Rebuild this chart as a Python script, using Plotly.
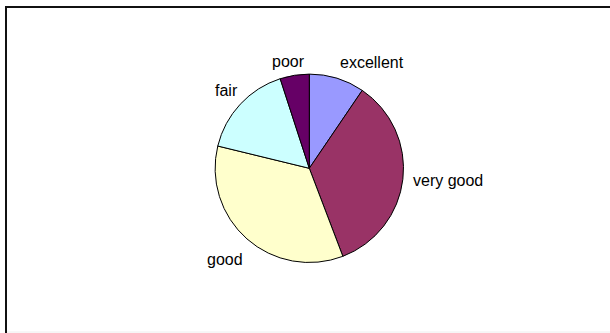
import plotly.graph_objects as go

# Data
categories = ["excellent", "very good", "good", "fair", "poor"]
values = [9.5, 34.7, 34.6, 16.2, 5.0]

# Styles
colors = ["#9999FF", "#993366", "#FFFFCC", "#CCFFFF", "#660066"]
W, H = 610, 333
# label anchor positions in pixels (x, y from top)
label_pos = [(371.7, 62.5), (447.7, 180.7), (225.0, 259.3), (226.7, 90.7), (288.0, 61.5)]

cx, cy, r = 309.3, 168.3, 94.2

fig = go.Figure(go.Pie(
    labels=categories, values=values, sort=False, direction="clockwise", rotation=0,
    marker=dict(colors=colors, line=dict(color="#000000", width=1)),
    textinfo="none", hoverinfo="label+percent", showlegend=False,
    domain=dict(x=[(cx - r) / W, (cx + r) / W], y=[1 - (cy + r) / H, 1 - (cy - r) / H]),
))

annotations = []
for name, (px, py) in zip(categories, label_pos):
    annotations.append(dict(
        x=px / W, y=1 - py / H, xref="paper", yref="paper", text=name, showarrow=False,
        xanchor="center", yanchor="middle",
        font=dict(family="Liberation Sans, Arial", size=16, color="#000000"),
    ))

fig.update_layout(
    width=W, height=H, margin=dict(l=0, r=0, t=0, b=0),
    paper_bgcolor="#FFFFFF", plot_bgcolor="#FFFFFF",
    annotations=annotations,
    shapes=[
        dict(type="rect", xref="paper", yref="paper", x0=6 / W, x1=1.05, y0=-0.05, y1=1 - 7 / H,
             line=dict(color="#111111", width=2), fillcolor="rgba(0,0,0,0)", layer="below"),
        dict(type="line", xref="paper", yref="paper", x0=7 / W, x1=1.0, y0=1 - 332 / H, y1=1 - 332 / H,
             line=dict(color="#EEEEEE", width=1)),
    ],
)

fig.write_html("out.html")
